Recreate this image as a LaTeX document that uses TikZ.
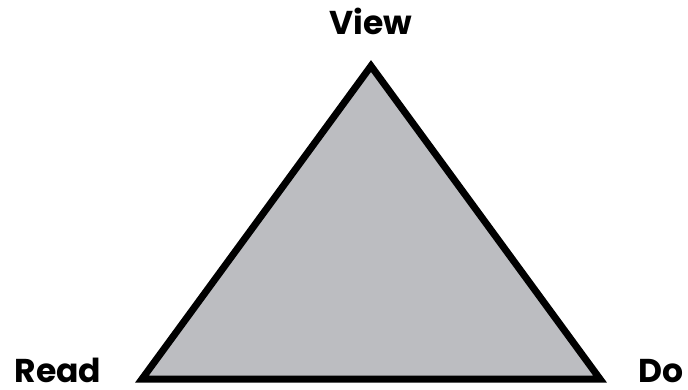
\documentclass[tikz,border=0pt]{standalone}
\usepackage{fontspec}
\setmainfont{Poppins}
\usetikzlibrary{positioning}
\definecolor{triGray}{RGB}{188,189,193}
\tikzset{
corner/.style={font=\fontsize{33}{38}\selectfont\bfseries,inner sep=0pt,text depth=0pt},
tri/.style={draw=black,fill=triGray,line width=7pt,line join=miter}
}

\begin{document}
\begin{tikzpicture}[x=1pt,y=-1pt]
\useasboundingbox (0,0) rectangle (688,389);
\coordinate (top) at (371,66);
\coordinate (left) at (142,379);
\coordinate (right) at (600,379);
\draw[tri] (top) -- (left) -- (right) -- cycle;
\node[corner,anchor=base] (view) at (371,34) {View};
\node[corner,anchor=base] (read) at (58,382) {Read};
\node[corner,anchor=base] (do) at (661,382) {Do};
\end{tikzpicture}
\end{document}
